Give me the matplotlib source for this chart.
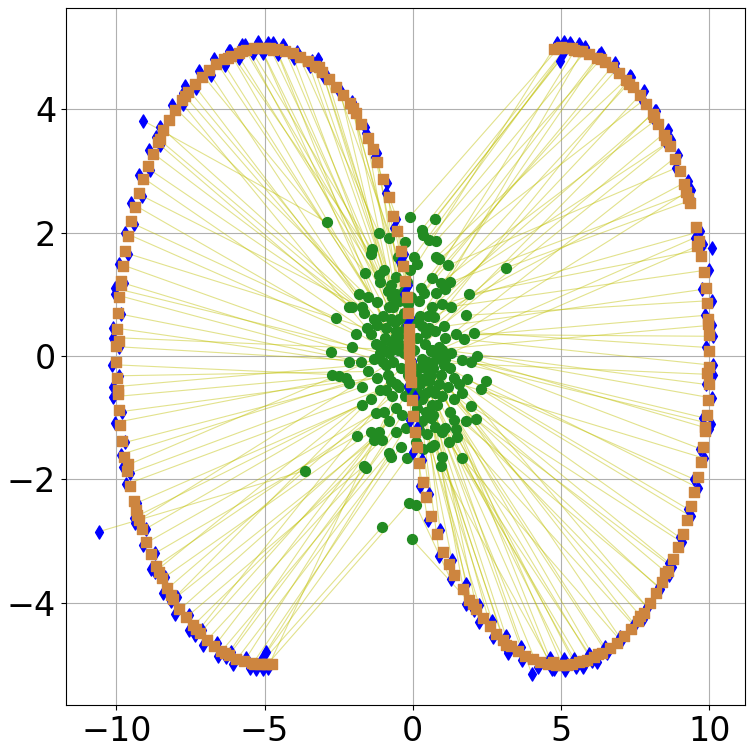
import numpy as np
import matplotlib
matplotlib.use('Agg')
import matplotlib.pyplot as plt

# Source samples (green), target samples (blue), mapped samples (orange)
# Row i of *_src is linked to row i of *_tgt; *_map is the transported source point
left_src = [(-0.15, -0.30), (0.05, 0.10), (-0.25, 0.45), (0.10, 0.55), (-0.30, 0.70), (-0.05, 0.95),
            (-0.15, 0.85), (-0.20, 1.20), (-0.35, 1.50), (-0.10, 1.40), (-0.45, 0.90), (-0.30, 1.05),
            (-0.58, 1.29), (-0.25, 1.85), (-0.58, 1.00), (-0.40, 0.35), (-0.80, 1.92), (-0.60, 0.55),
            (-0.50, 1.60), (-0.75, 1.15), (-0.45, 0.60), (-0.98, 1.40), (-0.65, 0.80), (-1.15, 2.00),
            (-0.55, 0.40), (-0.85, 1.05), (-0.70, 0.20), (-1.15, 1.32), (-0.81, 0.79), (-0.90, 0.45),
            (-1.38, 1.73), (-0.75, 0.60), (-1.10, 1.20), (-1.40, 1.65), (-1.00, 0.65), (-1.22, 0.87),
            (-0.95, 0.30), (-1.60, 1.35), (-1.20, 0.50), (-1.82, 1.01), (-1.05, 0.15), (-1.50, 0.95),
            (-2.90, 2.17), (-1.30, 0.60), (-2.16, 0.80), (-1.65, 0.70), (-2.06, 0.80), (-1.40, 0.35),
            (-1.72, 0.79), (-1.25, 0.20), (-2.60, 0.62), (-1.93, 0.35), (-1.55, 0.45), (-2.06, 0.15),
            (-1.30, -0.05), (-2.77, 0.06), (-1.76, -0.09), (-2.16, -0.09), (-1.00, -0.10),
            (-2.73, -0.30), (-1.50, -0.25), (-2.50, -0.33), (-1.20, -0.35), (-2.26, -0.35),
            (-0.85, -0.30), (-2.16, -0.43), (-1.72, -0.50), (-1.10, -0.55), (-1.72, -0.79),
            (-3.65, -1.86), (-1.40, -0.70), (-0.90, -0.55), (-1.25, -0.92), (-1.89, -1.29),
            (-0.98, -0.90), (-1.42, -1.23), (-0.70, -0.65), (-1.32, -1.36), (-1.15, -1.24),
            (-1.66, -1.79), (-1.05, -1.36), (-0.80, -1.05), (-1.59, -1.81), (-0.55, -0.85),
            (-0.81, -1.57), (-0.58, -1.24), (-0.74, -1.63), (-0.35, -0.95), (-0.41, -1.47),
            (-1.05, -2.78), (-0.20, -1.65), (-0.13, -2.38), (-0.45, -0.50), (-0.24, -1.16),
            (-0.50, 0.10), (-0.20, 0.20), (-0.65, -0.10), (-0.30, 0.05), (-0.80, 0.05), (-0.40, -0.20),
            (-0.60, 0.30), (-0.10, 0.30), (-0.25, -0.65), (-0.90, -0.15), (-0.15, 0.60), (-0.55, -0.45),
            (-0.70, 0.95), (-1.10, 0.05), (-0.35, 0.15), (-0.05, -0.15), (-0.75, -0.40), (-0.45, 0.20)]
left_tgt = [(-0.10, 0.08), (-0.20, 0.50), (-0.08, 0.64), (-0.30, 1.00), (-0.15, 1.15), (-0.44, 1.52),
            (-0.30, 1.66), (-0.62, 2.08), (-0.56, 2.22), (-0.90, 2.64), (-0.86, 2.80), (-1.26, 3.22),
            (-1.20, 3.30), (-1.58, 3.62), (-1.62, 3.72), (-2.02, 4.00), (-2.05, 4.02), (-2.46, 4.32),
            (-2.50, 4.30), (-2.92, 4.56), (-3.00, 4.52), (-3.40, 4.78), (-3.48, 4.70), (-3.90, 4.93),
            (-4.02, 4.83), (-4.38, 5.04), (-4.55, 4.90), (-4.90, 5.08), (-5.05, 4.92), (-5.22, 5.09),
            (-5.40, 4.92), (-5.65, 5.05), (-5.85, 4.84), (-6.18, 4.95), (-6.35, 4.72), (-6.70, 4.82),
            (-6.82, 4.56), (-7.20, 4.62), (-7.30, 4.35), (-7.68, 4.38), (-7.75, 4.08), (-8.12, 4.07),
            (-9.10, 3.82), (-8.52, 3.72), (-8.52, 3.42), (-8.90, 3.34), (-8.86, 3.02), (-9.22, 2.93),
            (-9.14, 2.60), (-9.50, 2.48), (-9.40, 2.14), (-9.72, 2.00), (-9.60, 1.66), (-9.92, 1.50),
            (-9.74, 1.18), (-10.06, 1.00), (-9.86, 0.68), (-10.12, 0.46), (-9.90, 0.15),
            (-10.14, -0.14), (-9.90, -0.32), (-10.10, -0.66), (-9.82, -0.90), (-10.05, -1.08),
            (-9.70, -1.40), (-9.86, -1.60), (-9.55, -1.90), (-9.66, -2.08), (-9.30, -2.38),
            (-10.60, -2.85), (-9.40, -2.62), (-9.00, -2.80), (-9.10, -3.06), (-8.70, -3.20),
            (-8.82, -3.46), (-8.35, -3.58), (-8.44, -3.84), (-7.95, -3.90), (-8.02, -4.18),
            (-7.55, -4.20), (-7.55, -4.44), (-7.10, -4.45), (-7.08, -4.68), (-6.62, -4.66),
            (-6.58, -4.86), (-6.12, -4.80), (-6.05, -4.99), (-5.62, -4.90), (-5.50, -5.06),
            (-5.30, -5.08), (-5.10, -4.92), (-5.05, -5.08), (-4.90, -5.06), (-4.95, -4.80),
            (-10.12, 0.30), (-4.70, 5.08), (-10.10, -0.50), (-6.20, 4.95), (-9.78, -1.80), (-8.16, -3.98),
            (-8.65, 3.55), (-3.20, 4.82), (-6.30, -4.88), (-9.38, -2.70), (-2.06, 4.12), (-7.35, -4.52),
            (-5.75, 5.04), (-10.05, 1.10), (-0.10, 0.30), (-0.14, 0.05), (-8.70, -3.50), (-7.76, 4.26)]
left_map = [(-0.13, 0.17), (-0.12, 0.44), (-0.17, 0.70), (-0.20, 0.95), (-0.26, 1.21), (-0.33, 1.46),
            (-0.41, 1.71), (-0.54, 2.03), (-0.66, 2.27), (-0.81, 2.58), (-0.99, 2.87), (-1.19, 3.15),
            (-1.35, 3.35), (-1.52, 3.54), (-1.74, 3.77), (-1.92, 3.94), (-2.13, 4.10), (-2.35, 4.24),
            (-2.58, 4.37), (-2.81, 4.49), (-3.05, 4.60), (-3.29, 4.70), (-3.54, 4.78), (-3.79, 4.85),
            (-4.05, 4.91), (-4.30, 4.95), (-4.56, 4.98), (-4.83, 5.00), (-5.00, 5.00), (-5.18, 5.00),
            (-5.35, 4.99), (-5.61, 4.96), (-5.87, 4.92), (-6.12, 4.87), (-6.38, 4.81), (-6.63, 4.73),
            (-6.87, 4.64), (-7.11, 4.53), (-7.35, 4.41), (-7.58, 4.29), (-7.80, 4.15), (-8.01, 3.99),
            (-8.21, 3.83), (-8.41, 3.66), (-8.60, 3.47), (-8.77, 3.28), (-8.94, 3.08), (-9.10, 2.87),
            (-9.24, 2.65), (-9.37, 2.42), (-9.49, 2.19), (-9.60, 1.95), (-9.70, 1.71), (-9.78, 1.46),
            (-9.85, 1.21), (-9.91, 0.95), (-9.95, 0.70), (-9.98, 0.44), (-10.00, 0.17),
            (-10.00, -0.09), (-9.99, -0.35), (-9.96, -0.61), (-9.92, -0.87), (-9.87, -1.12),
            (-9.81, -1.38), (-9.73, -1.63), (-9.64, -1.87), (-9.53, -2.11), (-9.41, -2.35),
            (-9.33, -2.50), (-9.29, -2.58), (-9.15, -2.80), (-8.99, -3.01), (-8.83, -3.21),
            (-8.66, -3.41), (-8.47, -3.60), (-8.28, -3.77), (-8.08, -3.94), (-7.87, -4.10),
            (-7.65, -4.24), (-7.42, -4.37), (-7.19, -4.49), (-6.95, -4.60), (-6.71, -4.70),
            (-6.46, -4.78), (-6.21, -4.85), (-5.95, -4.91), (-5.70, -4.95), (-5.44, -4.98),
            (-5.35, -4.99), (-5.17, -5.00), (-5.00, -5.00), (-4.91, -5.00), (-4.74, -4.99),
            (-9.90, 0.25), (-4.72, 4.97), (-9.93, -0.55), (-6.25, 4.84), (-9.62, -1.75), (-8.15, -3.88),
            (-8.52, 3.52), (-3.15, 4.68), (-6.35, -4.82), (-9.22, -2.66), (-2.02, 4.02), (-7.30, -4.42),
            (-5.75, 4.94), (-9.86, 1.15), (-0.14, 0.30), (-0.12, 0.03), (-8.56, -3.50), (-7.68, 4.22)]

right_src = [(0.15, 0.30), (-0.05, -0.10), (0.25, -0.45), (-0.10, -0.55), (0.30, -0.70), (0.05, -0.95),
             (0.15, -0.85), (0.20, -1.20), (0.35, -1.50), (0.10, -1.40), (0.45, -0.90), (0.30, -1.05),
             (0.47, -1.27), (0.10, -2.41), (0.60, -1.00), (0.40, -0.35), (0.60, -1.47), (0.60, -0.55),
             (0.71, -1.44), (0.75, -1.15), (0.45, -0.60), (0.98, -1.63), (0.65, -0.80), (-0.03, -2.97),
             (0.55, -0.40), (0.98, -1.24), (0.70, -0.20), (0.95, -1.78), (0.81, -0.79), (0.90, -0.45),
             (1.10, -1.16), (0.75, -0.60), (1.22, -1.40), (1.49, -1.32), (1.00, -0.65), (1.38, -1.03),
             (0.95, -0.30), (1.66, -1.65), (1.20, -0.50), (1.45, -1.19), (1.05, -0.15), (1.78, -1.06),
             (1.38, -0.70), (1.25, -0.90), (2.12, -1.02), (1.66, -0.60), (1.96, -0.81), (1.40, -0.35),
             (2.29, -0.54), (1.25, -0.20), (2.46, -0.41), (1.83, -0.38), (1.55, -0.45), (1.96, -0.09),
             (1.30, 0.05), (1.66, -0.06), (2.16, 0.00), (1.00, 0.10), (1.72, 0.27),
             (2.06, 0.38), (1.45, 0.35), (1.10, 0.30), (1.79, 0.66), (1.05, 0.48), (1.28, 0.80),
             (1.90, 1.00), (0.88, 0.10), (0.98, 0.84), (3.14, 1.43), (1.27, 1.20), (0.71, 0.64),
             (1.19, 1.47), (0.60, 0.08), (1.10, 1.08), (0.44, 0.38), (0.94, 1.19), (0.65, 0.80),
             (0.88, 1.57), (0.30, 0.48), (0.77, 1.03), (0.80, 1.61), (0.65, 1.27), (0.37, 1.03),
             (0.77, 1.86), (0.27, 1.11), (0.54, 1.89), (0.50, 0.65), (0.34, 1.97), (-0.10, 2.26),
             (0.14, 1.50), (0.74, 2.23), (0.03, 1.61), (0.30, 2.05),
             (0.50, -0.10), (0.20, -0.20), (0.65, 0.10), (0.30, -0.05), (0.80, -0.05), (0.40, 0.20),
             (0.60, -0.30), (0.10, -0.30), (0.25, 0.65), (0.90, 0.15), (0.15, -0.60), (0.55, 0.45),
             (0.70, -0.95), (1.10, -0.05), (0.35, -0.15), (0.75, 0.40), (0.45, -0.20), (0.20, 0.90)]
right_tgt = [(-0.02, -0.08), (-0.16, -0.48), (0.06, -0.66), (-0.10, -1.03), (0.16, -1.17), (0.02, -1.55),
             (0.32, -1.68), (0.24, -2.10), (0.56, -2.24), (0.50, -2.66), (0.92, -2.82), (0.90, -3.24),
             (1.32, -3.30), (1.28, -3.62), (1.80, -3.70), (1.80, -4.02), (2.24, -4.04), (2.25, -4.32),
             (2.68, -4.30), (2.72, -4.56), (3.14, -4.54), (3.20, -4.78), (3.64, -4.72), (3.70, -4.93),
             (4.01, -5.15), (4.22, -5.04), (4.62, -4.90), (4.76, -5.08), (5.10, -4.92), (5.12, -5.09),
             (5.45, -4.92), (5.52, -5.05), (5.96, -4.84), (6.05, -4.95), (6.48, -4.72), (6.55, -4.82),
             (6.98, -4.56), (7.02, -4.62), (7.48, -4.35), (7.48, -4.38), (7.92, -4.08), (7.90, -4.07),
             (8.35, -3.78), (8.30, -3.74), (8.74, -3.42), (8.66, -3.36), (9.08, -3.02), (9.00, -2.94),
             (9.38, -2.60), (9.28, -2.48), (9.64, -2.14), (9.50, -2.00), (9.84, -1.66), (9.68, -1.50),
             (10.00, -1.18), (9.80, -1.00), (10.08, -0.68), (9.88, -0.46), (10.14, -0.15),
             (9.90, 0.14), (10.14, 0.32), (9.86, 0.66), (10.08, 0.90), (9.76, 1.08), (10.00, 1.40),
             (10.10, 1.76), (9.52, 1.92), (9.70, 2.02), (9.40, 2.53), (9.18, 2.62), (9.28, 2.84),
             (8.88, 3.05), (8.96, 3.26), (8.56, 3.45), (8.60, 3.66), (8.18, 3.82), (8.22, 3.98),
             (7.76, 4.14), (7.80, 4.30), (7.32, 4.44), (7.32, 4.54), (6.86, 4.64), (6.84, 4.76),
             (6.36, 4.82), (6.34, 4.92), (5.86, 4.96), (5.82, 5.02), (5.34, 5.04), (5.11, 5.10),
             (4.86, 5.07), (4.96, 4.79), (5.06, 4.92), (5.30, 5.08),
             (10.12, -0.30), (4.70, -5.08), (10.08, 0.50), (6.20, -4.96), (9.78, 1.82), (8.16, 3.98),
             (8.65, -3.55), (3.20, -4.82), (6.30, 4.88), (9.38, 2.70), (2.06, -4.12), (7.35, 4.52),
             (5.75, -5.04), (10.05, -1.10), (-0.05, -0.30), (8.72, 3.50), (7.76, -4.26), (5.60, 5.06)]
right_map = [(-0.08, -0.15), (-0.07, -0.42), (-0.04, -0.72), (0.00, -0.97), (0.06, -1.23), (0.13, -1.48),
             (0.21, -1.73), (0.34, -2.05), (0.46, -2.29), (0.62, -2.60), (0.81, -2.89), (1.02, -3.17),
             (1.21, -3.37), (1.40, -3.55), (1.68, -3.78), (1.89, -3.95), (2.14, -4.11), (2.36, -4.25),
             (2.59, -4.38), (2.82, -4.50), (3.06, -4.61), (3.30, -4.71), (3.55, -4.79), (3.80, -4.86),
             (4.06, -4.92), (4.31, -4.96), (4.57, -4.99), (4.84, -5.01), (5.01, -5.01), (5.19, -5.01),
             (5.36, -5.00), (5.62, -4.97), (5.88, -4.93), (6.13, -4.88), (6.39, -4.82), (6.64, -4.74),
             (6.88, -4.65), (7.12, -4.54), (7.36, -4.42), (7.59, -4.30), (7.81, -4.16), (8.02, -4.00),
             (8.22, -3.84), (8.42, -3.67), (8.61, -3.48), (8.78, -3.29), (8.95, -3.09), (9.11, -2.88),
             (9.25, -2.66), (9.38, -2.43), (9.50, -2.20), (9.61, -1.96), (9.71, -1.72), (9.79, -1.47),
             (9.86, -1.22), (9.92, -0.96), (9.96, -0.71), (9.99, -0.45), (10.01, -0.18),
             (10.01, 0.08), (10.00, 0.34), (9.97, 0.60), (9.93, 0.86), (9.88, 1.11), (9.82, 1.37),
             (9.74, 1.62), (9.65, 1.86), (9.54, 2.10), (9.34, 2.49), (9.30, 2.57), (9.16, 2.79),
             (9.00, 3.00), (8.84, 3.20), (8.67, 3.40), (8.48, 3.59), (8.29, 3.76), (8.09, 3.93),
             (7.88, 4.09), (7.66, 4.23), (7.43, 4.36), (7.20, 4.48), (6.96, 4.59), (6.72, 4.69),
             (6.47, 4.77), (6.22, 4.84), (5.96, 4.90), (5.71, 4.94), (5.45, 4.97), (5.18, 4.99),
             (4.92, 4.99), (4.75, 4.98), (5.01, 5.01), (5.36, 5.00),
             (9.92, -0.28), (4.72, -4.97), (9.95, 0.52), (6.25, -4.84), (9.60, 1.78), (8.15, 3.88),
             (8.52, -3.52), (3.15, -4.68), (6.35, 4.82), (9.22, 2.66), (2.02, -4.02), (7.30, 4.42),
             (5.75, -4.94), (9.86, -1.15), (-0.09, -0.30), (8.56, 3.50), (7.68, -4.22), (5.58, 4.95)]

xs = np.array(left_src + right_src)
xt = np.array(left_tgt + right_tgt)
xm = np.array(left_map + right_map)

fig = plt.figure(figsize=(7.53, 7.53), dpi=100)
ax = fig.add_axes([0.0876, 0.0637, 0.9014, 0.9253])

# coupling lines between source and target samples
for i in range(len(xs)):
    ax.plot([xs[i, 0], xt[i, 0]], [xs[i, 1], xt[i, 1]], color='y', alpha=0.45, lw=0.8, zorder=1)

ax.scatter(xs[:, 0], xs[:, 1], c='forestgreen', marker='o', s=50, zorder=2)
ax.scatter(xt[:, 0], xt[:, 1], c='blue', marker='d', s=45, zorder=3)
ax.scatter(xm[:, 0], xm[:, 1], c='peru', marker='s', s=60, zorder=4)

ax.set_xlim(-11.7, 11.2)
ax.set_ylim(-5.66, 5.64)
ax.set_xticks([-10, -5, 0, 5, 10])
ax.set_yticks([-4, -2, 0, 2, 4])
ax.tick_params(labelsize=24)
ax.grid(True)
ax.set_axisbelow(True)

fig.savefig('out.png', dpi=100)
